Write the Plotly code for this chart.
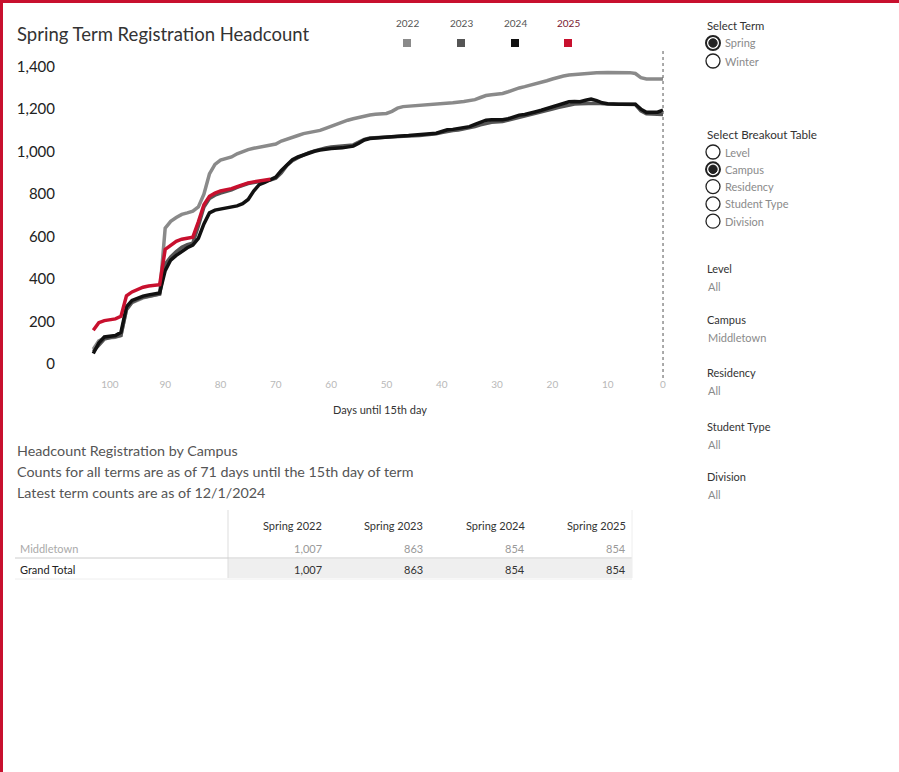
import plotly.graph_objects as go

# ---------------- data ----------------
years = ["2022", "2023", "2024", "2025"]
colors = ["#8a8a8a", "#555555", "#111111", "#c8102e"]

days_2022 = [103, 102, 101, 100, 99, 98, 97, 96, 95, 94, 93, 92, 91, 90, 89, 88, 87, 86, 85, 84, 83, 82, 81, 80,
             79, 78, 77, 76, 75, 74, 73, 72, 71, 70, 69, 68, 67, 66, 65, 64, 63, 62, 61, 60, 59, 58, 57, 56, 55,
             54, 53, 52, 50, 49, 48, 47, 46, 44, 42, 40, 38, 36, 35, 34, 33, 32, 31, 30, 29, 28, 27, 26, 25, 24,
             23, 22, 21, 20, 19, 18, 17, 16, 14, 12, 10, 8, 6, 5, 4, 3, 0]
vals_2022 = [70, 110, 122, 125, 126, 135, 255, 290, 302, 312, 318, 322, 330, 640, 672, 690, 705, 712, 720, 740, 800,
             895, 940, 960, 968, 975, 990, 1002, 1010, 1016, 1020, 1024, 1028, 1036, 1050, 1060, 1068, 1076, 1085,
             1090, 1094, 1100, 1110, 1120, 1130, 1140, 1148, 1155, 1162, 1168, 1173, 1176, 1180, 1190, 1205, 1212,
             1214, 1216, 1220, 1224, 1230, 1236, 1240, 1245, 1255, 1264, 1268, 1270, 1274, 1282, 1292, 1300, 1306,
             1312, 1318, 1326, 1334, 1342, 1350, 1356, 1361, 1364, 1368, 1372, 1373, 1373, 1372, 1368, 1348, 1342,
             1342]

days_2023 = [103, 102, 101, 100, 99, 98, 97, 96, 95, 94, 93, 92, 91, 90, 89, 88, 87, 86, 85, 84, 83, 82, 81, 80,
             79, 78, 77, 76, 75, 74, 73, 72, 71, 70, 69, 68, 67, 66, 65, 64, 63, 62, 61, 60, 58, 56, 55, 54, 53,
             51, 50, 48, 46, 44, 42, 41, 40, 39, 38, 37, 35, 34, 33, 32, 31, 29, 28, 27, 26, 25, 24, 23, 22, 21,
             20, 19, 18, 17, 16, 15, 14, 12, 10, 8, 5, 4, 3, 0]
vals_2023 = [60, 90, 118, 125, 128, 135, 258, 292, 305, 315, 320, 325, 330, 470, 505, 530, 550, 562, 570, 650, 740,
             780, 795, 805, 812, 820, 832, 842, 850, 855, 858, 862, 866, 875, 900, 935, 958, 972, 985, 996, 1004,
             1012, 1018, 1022, 1026, 1032, 1045, 1058, 1064, 1068, 1070, 1072, 1074, 1076, 1080, 1084, 1090, 1096,
             1100, 1102, 1110, 1118, 1126, 1132, 1138, 1142, 1148, 1156, 1164, 1168, 1174, 1180, 1186, 1192, 1200,
             1208, 1214, 1220, 1224, 1226, 1228, 1228, 1224, 1222, 1222, 1192, 1178, 1175]

days_2024 = [103, 102, 101, 100, 99, 98, 97, 96, 95, 94, 93, 92, 91, 90, 89, 88, 87, 86, 85, 84, 83, 82, 81, 80,
             79, 78, 77, 76, 75, 74, 73, 72, 71, 70, 69, 68, 67, 66, 65, 64, 63, 62, 61, 60, 58, 57, 56, 55, 54,
             53, 51, 50, 48, 46, 44, 42, 41, 40, 39, 38, 37, 35, 34, 33, 32, 31, 29, 28, 27, 26, 25, 24, 23, 22,
             21, 20, 19, 18, 17, 16, 15, 14, 13, 12, 11, 10, 9, 8, 5, 4, 3, 2, 1, 0]
vals_2024 = [50, 100, 128, 132, 135, 150, 270, 300, 312, 320, 326, 330, 335, 440, 490, 512, 530, 548, 560, 592, 660,
             712, 725, 730, 735, 740, 745, 755, 775, 815, 845, 856, 866, 880, 912, 940, 962, 975, 985, 995, 1002,
             1008, 1012, 1015, 1018, 1022, 1026, 1040, 1055, 1062, 1068, 1071, 1073, 1076, 1079, 1083, 1087, 1095,
             1103, 1105, 1108, 1118, 1128, 1140, 1148, 1150, 1150, 1155, 1165, 1172, 1175, 1180, 1188, 1195, 1203,
             1212, 1220, 1228, 1235, 1236, 1235, 1242, 1248, 1240, 1230, 1226, 1223, 1223, 1223, 1200, 1185, 1184,
             1186, 1195]

days_2025 = [103, 102, 101, 100, 99, 98, 97, 96, 95, 94, 93, 92, 91, 90, 89, 88, 87, 86, 85, 84, 83, 82, 81, 80,
             79, 78, 77, 76, 75, 74, 73, 72, 71]
vals_2025 = [160, 195, 205, 210, 213, 225, 322, 340, 352, 362, 368, 369, 374, 540, 557, 578, 588, 593, 598, 670, 750,
             790, 805, 815, 820, 826, 835, 846, 853, 858, 862, 866, 870]

series_days = [days_2022, days_2023, days_2024, days_2025]
series_vals = [vals_2022, vals_2023, vals_2024, vals_2025]

x_ticks = [100, 90, 80, 70, 60, 50, 40, 30, 20, 10, 0]
y_ticks = [0, 200, 400, 600, 800, 1000, 1200, 1400]

table_cols = ["Spring 2022", "Spring 2023", "Spring 2024", "Spring 2025"]
table_rows = ["Middletown", "Grand Total"]
table_values = [[1007, 863, 854, 854], [1007, 863, 854, 854]]

term_options = ["Spring", "Winter"]
term_selected = "Spring"
breakout_options = ["Level", "Campus", "Residency", "Student Type", "Division"]
breakout_selected = "Campus"
filters = [("Level", "All"), ("Campus", "Middletown"), ("Residency", "All"),
           ("Student Type", "All"), ("Division", "All")]

title = "Spring Term Registration Headcount"
sub_lines = ["Headcount Registration by Campus",
             "Counts for all terms are as of 71 days until the 15th day of term",
             "Latest term counts are as of 12/1/2024"]

# ---------------- layout geometry ----------------
W, H = 899, 772
L, R, T, B = 80, 680, 55, 375
FONT = "Lato"


def px(x):
    return (x - L) / (R - L)


def py(y):
    return (B - y) / (B - T)


fig = go.Figure()
for yr, c, d, v in zip(years, colors, series_days, series_vals):
    fig.add_trace(go.Scatter(x=d, y=v, mode="lines", name=yr,
                             line=dict(color=c, width=3.5), showlegend=False))

fig.update_layout(
    width=W, height=H,
    margin=dict(l=L, r=W - R, t=T, b=H - B),
    paper_bgcolor="white", plot_bgcolor="white",
    font=dict(family=FONT, color="#333"),
    showlegend=False,
)
fig.update_xaxes(range=[105.4, -3.07], tickvals=x_ticks, ticktext=[str(t) for t in x_ticks],
                 showgrid=False, zeroline=False, showline=False, ticks="",
                 tickfont=dict(size=10, color="#b8b8b8", family=FONT), ticklabelstandoff=2,
                 title=dict(text="Days until 15th day", font=dict(size=11, color="#333", family=FONT), standoff=17))
fig.update_yaxes(range=[-51, 1455], tickvals=y_ticks, ticktext=[f"{t:,}" for t in y_ticks],
                 showgrid=False, zeroline=False, showline=False, ticks="",
                 tickfont=dict(size=15, color="#222", family=FONT), ticklabelstandoff=24)

shapes = []
ann = []


def text(x, y, s, size=11, color="#333", anchor="left"):
    ann.append(dict(x=px(x), y=py(y), xref="paper", yref="paper", text=s, showarrow=False,
                    xanchor=anchor, yanchor="middle", font=dict(size=size, color=color, family=FONT)))


def rect(x0, y0, x1, y1, fill, line=None):
    shapes.append(dict(type="rect", xref="paper", yref="paper", x0=px(x0), x1=px(x1), y0=py(y1), y1=py(y0),
                       fillcolor=fill, line=dict(width=0) if line is None else line, layer="above"))


def hline(x0, x1, y, color, width=1):
    shapes.append(dict(type="line", xref="paper", yref="paper", x0=px(x0), x1=px(x1), y0=py(y), y1=py(y),
                       line=dict(color=color, width=width), layer="above"))


def vline(x, y0, y1, color, width=1):
    shapes.append(dict(type="line", xref="paper", yref="paper", x0=px(x), x1=px(x), y0=py(y0), y1=py(y1),
                       line=dict(color=color, width=width), layer="above"))


def circle(cx, cy, r, fill, lc, lw):
    shapes.append(dict(type="circle", xref="paper", yref="paper", x0=px(cx - r), x1=px(cx + r),
                       y0=py(cy + r), y1=py(cy - r), fillcolor=fill, line=dict(color=lc, width=lw), layer="above"))


# red frame
rect(0, 0, W, 3, "#c8102e")
rect(0, 0, 3, H, "#c8102e")

# dashed reference line at day 0
shapes.append(dict(type="line", xref="x", yref="paper", x0=0, x1=0, y0=py(378), y1=py(48),
                   line=dict(color="#555", width=1, dash="dot")))

# title
text(15, 34, title, size=18.5, color="#333")

# legend
leg_x = [407, 461, 515, 568]
for yr, c, lx in zip(years, colors, leg_x):
    text(lx, 23, yr, size=10, color="#7a2030" if yr == "2025" else "#555", anchor="center")
    rect(lx - 4, 39, lx + 4, 47, c)

# right panel: select term
text(705, 25, "Select Term", size=11.3, color="#333")
for i, opt in enumerate(term_options):
    cy = 43 + i * 18
    sel = opt == term_selected
    circle(713, cy, 7, "white", "#222", 2 if sel else 1.3)
    if sel:
        circle(713, cy, 4.2, "#222", "#222", 1)
    text(723, cy, opt, size=11, color="#8a8a8a")

text(705, 134, "Select Breakout Table", size=11.7, color="#333")
for i, opt in enumerate(breakout_options):
    cy = 152 + i * 17.3
    sel = opt == breakout_selected
    circle(713, cy, 7, "white", "#222", 2 if sel else 1.3)
    if sel:
        circle(713, cy, 4.2, "#222", "#222", 1)
    text(723, cy, opt, size=11, color="#8a8a8a")

filter_y = [268, 319, 372, 426, 476]
for (name, val), fy in zip(filters, filter_y):
    text(705, fy, name, size=11, color="#333")
    text(706, fy + 18, val, size=11, color="#8a8a8a")

# subtitle lines
for i, s in enumerate(sub_lines):
    text(15, 450 + i * 21, s, size=14.3, color="#555")

# table
col_right = [324, 425, 527, 628]
rect(228, 559, 632, 578, "#efefef")
vline(228, 510, 578, "#dddddd")
hline(15, 632, 558, "#cccccc")
hline(15, 632, 579, "#eeeeee")
vline(632, 510, 578, "#eeeeee")
for c, xr in zip(table_cols, col_right):
    text(xr, 525, c, size=11, color="#333", anchor="right")
row_y = [548, 569]
row_colors = ["#aaaaaa", "#222222"]
val_colors = ["#999999", "#333333"]
for r, ry, rc, vc, vals in zip(table_rows, row_y, row_colors, val_colors, table_values):
    text(18, ry, r, size=11, color=rc)
    for v, xr in zip(vals, col_right):
        text(xr, ry, f"{v:,}", size=11, color=vc, anchor="right")

fig.update_layout(shapes=shapes, annotations=ann)
fig.write_html("out.html", config={"displayModeBar": False})
